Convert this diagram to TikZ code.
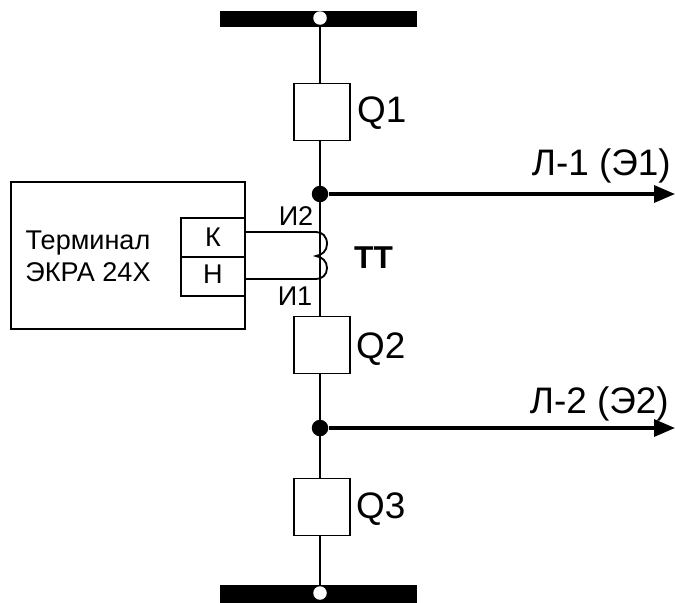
\documentclass[tikz,border=0pt]{standalone}
\usepackage{fontspec}
\setmainfont{Liberation Sans}
\usepackage{xcolor}
\usetikzlibrary{arrows.meta}

\tikzset{
  wire/.style={line width=1.05pt, black},
  feeder/.style={line width=1.9pt, black, -{Triangle[length=0.42cm, width=0.34cm]}},
  bus/.style={draw=none, fill=black, minimum width=3.94cm, minimum height=0.32cm, inner sep=0pt},
  tap/.style={circle, draw=none, fill=white, minimum size=0.27cm, inner sep=0pt},
  joint/.style={circle, draw=none, fill=black, minimum size=0.33cm, inner sep=0pt},
  breaker/.style={rectangle, draw, line width=1.05pt, fill=white, minimum width=1.12cm, minimum height=1.14cm, inner sep=0pt},
  pin/.style={rectangle, draw, line width=1.05pt, fill=white, minimum width=1.28cm, minimum height=0.78cm, inner sep=0pt, font=\fontsize{15.4}{18}\selectfont},
  biglabel/.style={font=\fontsize{21}{23}\selectfont},
  smalllabel/.style={font=\fontsize{15.4}{18}\selectfont}
}

\begin{document}
\begin{tikzpicture}[x=0.02cm, y=-0.02cm]
  \useasboundingbox (0, 0) rectangle (675, 602);

  % Busbars
  \node[bus] (bustop) at (318.5, 18.5) {};
  \node[bus, minimum height=0.36cm] (busbot) at (318.5, 593.5) {};
  \node[tap] (taptop) at (320, 18) {};
  \node[tap] (tapbot) at (320, 593) {};

  % Terminal
  \node[rectangle, draw, line width=1.05pt, minimum width=4.68cm, minimum height=2.94cm] (terminal) at (128, 255.5) {};
  \node[smalllabel, align=center] (terminaltext) at (88, 256.5) {Терминал\\ЭКРА 24Х};
  \node[pin] (pink) at (213, 237.5) {К};
  \node[pin, text depth=2.6pt] (pinn) at (213, 276.5) {Н};

  % Main line
  \node[joint] (jointa) at (320, 194) {};
  \node[joint] (jointb) at (320, 428) {};
  \draw[wire] (taptop) -- (tapbot);
  \node[breaker] (qa) at (322, 112) {};
  \node[breaker] (qb) at (322, 345) {};
  \node[breaker] (qc) at (322, 507) {};
  \node[biglabel, anchor=west] (qalabel) at (351, 113) {Q1};
  \node[biglabel, anchor=west] (qblabel) at (350, 349) {Q2};
  \node[biglabel, anchor=west] (qclabel) at (350, 509) {Q3};

  % Feeders
  \coordinate (enda) at (675, 194);
  \coordinate (endb) at (675, 428);
  \draw[feeder] (jointa) -- (enda);
  \draw[feeder] (jointb) -- (endb);
  \node[biglabel, anchor=base east] (feedera) at (677, 175) {Л-1 (Э1)};
  \node[biglabel, anchor=base east] (feederb) at (675, 413) {Л-2 (Э2)};

  % Current transformer
  \coordinate (coilk) at (pink.east |- 0, 232);
  \coordinate (coiln) at (pinn.east |- 0, 279);
  \draw[wire] (coilk) -- (316, 232) .. controls (322, 232) and (327, 236) .. (327, 244) .. controls (327, 251) and (322, 255) .. (316, 256) .. controls (322, 257) and (327, 261) .. (327, 268) .. controls (327, 275) and (322, 279) .. (316, 279) -- (coiln);
  \node[smalllabel, anchor=base] (coilktext) at (296, 225) {И2};
  \node[smalllabel, anchor=base] (coilntext) at (295, 305) {И1};
  \node[font=\fontsize{18}{20}\selectfont\bfseries] (ctlabel) at (373.5, 258) {ТТ};
\end{tikzpicture}
\end{document}
